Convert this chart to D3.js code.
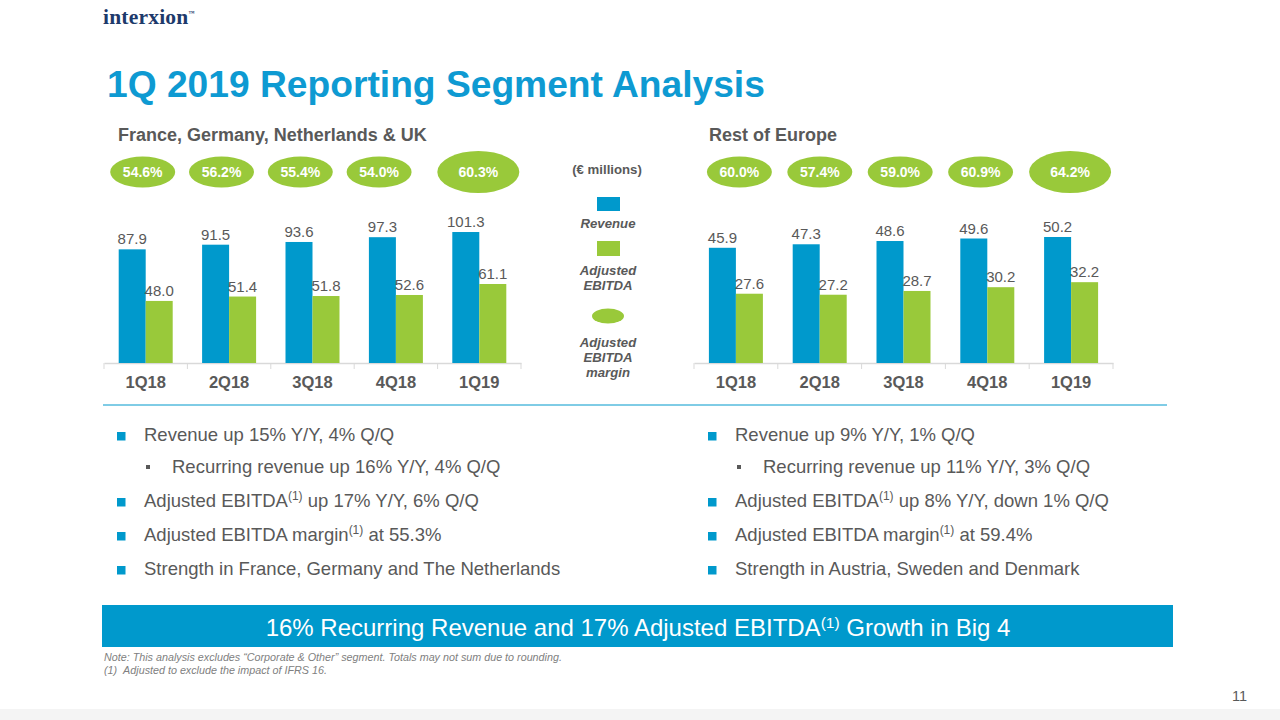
<!DOCTYPE html>
<html><head><meta charset="utf-8">
<script src="https://cdn.jsdelivr.net/npm/d3@7/dist/d3.min.js"></script>
<style>body{margin:0;background:#fff;}svg{display:block;font-family:"Liberation Sans",Arial,sans-serif;}</style>
</head><body>
<svg id="c" width="1280" height="720"></svg>
<script>
const quarters = ["1Q18","2Q18","3Q18","4Q18","1Q19"];
const leftRevenue = [87.9, 91.5, 93.6, 97.3, 101.3];
const leftEbitda = [48.0, 51.4, 51.8, 52.6, 61.1];
const leftMargin = ["54.6%","56.2%","55.4%","54.0%","60.3%"];
const rightRevenue = [45.9, 47.3, 48.6, 49.6, 50.2];
const rightEbitda = [27.6, 27.2, 28.7, 30.2, 32.2];
const rightMargin = ["60.0%","57.4%","59.0%","60.9%","64.2%"];
const leftBullets = [
  {lvl:1, parts:[["Revenue up 15% Y/Y, 4% Q/Q"]]},
  {lvl:2, parts:[["Recurring revenue up 16% Y/Y, 4% Q/Q"]]},
  {lvl:1, parts:[["Adjusted EBITDA"],["(1)","sup"],[" up 17% Y/Y, 6% Q/Q"]]},
  {lvl:1, parts:[["Adjusted EBITDA margin"],["(1)","sup"],[" at 55.3%"]]},
  {lvl:1, parts:[["Strength in France, Germany and The Netherlands"]]}
];
const rightBullets = [
  {lvl:1, parts:[["Revenue up 9% Y/Y, 1% Q/Q"]]},
  {lvl:2, parts:[["Recurring revenue up 11% Y/Y, 3% Q/Q"]]},
  {lvl:1, parts:[["Adjusted EBITDA"],["(1)","sup"],[" up 8% Y/Y, down 1% Q/Q"]]},
  {lvl:1, parts:[["Adjusted EBITDA margin"],["(1)","sup"],[" at 59.4%"]]},
  {lvl:1, parts:[["Strength in Austria, Sweden and Denmark"]]}
];

const BLUE = "#0099cc", GREEN = "#99c93a", GRAY = "#595959";
const svg = d3.select("#c");

// Logo
const logo = svg.append("text").attr("x",103).attr("y",24)
  .attr("font-family","'Liberation Serif','DejaVu Serif',serif").attr("font-weight","bold")
  .attr("font-size",21.5).attr("letter-spacing",0.2).attr("fill","#1d3a6b").text("interxion");
logo.append("tspan").attr("font-size",6).attr("dy",-9).text("™");

// Title
svg.append("text").attr("x",107).attr("y",97).attr("font-size",37.2).attr("font-weight","bold")
  .attr("fill","#0e9ad2").text("1Q 2019 Reporting Segment Analysis");

svg.append("text").attr("x",118).attr("y",141).attr("font-size",18).attr("font-weight","bold")
  .attr("fill",GRAY).text("France, Germany, Netherlands & UK");
svg.append("text").attr("x",709).attr("y",141).attr("font-size",18).attr("font-weight","bold")
  .attr("fill",GRAY).text("Rest of Europe");

function drawChart(x0, x1, rev, ebt, margins, pxPerUnit, offA, offB){
  const base = 363;
  const x = d3.scaleBand().domain(quarters).range([x0, x1]);
  const maxV = d3.max(rev)*1.1;
  const y = d3.scaleLinear().domain([0, maxV]).range([base, base - maxV*pxPerUnit]);
  const bw = 27;
  const g = svg.append("g");
  const ax = d3.axisBottom(x).tickSize(0).tickSizeOuter(0).tickFormat("");
  const axg = g.append("g").attr("transform",`translate(0,${base})`).call(ax);
  axg.select(".domain").attr("stroke","#d9d9d9").attr("stroke-width",1.5);
  g.selectAll("line.sep").data(d3.range(6)).join("line")
    .attr("x1",i=>x0+i*x.step()).attr("x2",i=>x0+i*x.step())
    .attr("y1",base).attr("y2",base+6).attr("stroke","#d9d9d9");
  g.selectAll("text.cat").data(quarters).join("text")
    .attr("x",d=>x(d)+x.bandwidth()/2).attr("y",388).attr("text-anchor","middle")
    .attr("font-size",16.5).attr("font-weight","bold").attr("fill",GRAY).text(d=>d);
  const cx = d => x(d)+x.bandwidth()/2;
  g.selectAll("rect.rev").data(quarters).join("rect")
    .attr("x",d=>cx(d)-bw).attr("width",bw)
    .attr("y",(d,i)=>y(rev[i])).attr("height",(d,i)=>base-y(rev[i])).attr("fill",BLUE);
  g.selectAll("rect.ebt").data(quarters).join("rect")
    .attr("x",d=>cx(d)).attr("width",bw)
    .attr("y",(d,i)=>y(ebt[i])).attr("height",(d,i)=>base-y(ebt[i])).attr("fill",GREEN);
  g.selectAll("text.rv").data(quarters).join("text")
    .attr("x",d=>cx(d)-bw/2).attr("y",(d,i)=>y(rev[i])-5).attr("text-anchor","middle")
    .attr("font-size",15).attr("fill",GRAY).text((d,i)=>rev[i].toFixed(1));
  g.selectAll("text.eb").data(quarters).join("text")
    .attr("x",d=>cx(d)+bw/2).attr("y",(d,i)=>y(ebt[i])-5).attr("text-anchor","middle")
    .attr("font-size",15).attr("fill",GRAY).text((d,i)=>ebt[i].toFixed(1));
  const last = quarters.length-1;
  const ex = (d,i) => cx(d) + (i===last ? -1 : offA + offB*i);
  g.selectAll("ellipse.m").data(quarters).join("ellipse")
    .attr("cx",ex).attr("cy",172)
    .attr("rx",(d,i)=>i===last?41:32.5).attr("ry",(d,i)=>i===last?21:15.5).attr("fill",GREEN);
  g.selectAll("text.m").data(quarters).join("text")
    .attr("x",ex).attr("y",177).attr("text-anchor","middle")
    .attr("font-size",14).attr("font-weight","bold").attr("fill","#fff").text((d,i)=>margins[i]);
}
drawChart(104, 521, leftRevenue, leftEbitda, leftMargin, 1.293, -3, -4.6);
drawChart(694, 1113, rightRevenue, rightEbitda, rightMargin, 2.51, 3.5, -3.4);

// Legend
const lg = svg.append("g").attr("fill",GRAY).attr("font-weight","bold").attr("font-size",13.2).attr("text-anchor","middle");
lg.append("text").attr("x",607).attr("y",174).text("(€ millions)");
lg.append("rect").attr("x",597).attr("y",197).attr("width",23).attr("height",14).attr("fill",BLUE);
lg.append("text").attr("x",608).attr("y",228).attr("font-style","italic").text("Revenue");
lg.append("rect").attr("x",597).attr("y",241).attr("width",23).attr("height",15).attr("fill",GREEN);
lg.append("text").attr("x",608).attr("y",275).attr("font-style","italic").text("Adjusted");
lg.append("text").attr("x",608).attr("y",290).attr("font-style","italic").text("EBITDA");
lg.append("ellipse").attr("cx",608).attr("cy",316).attr("rx",16).attr("ry",7.5).attr("fill",GREEN);
lg.append("text").attr("x",608).attr("y",347).attr("font-style","italic").text("Adjusted");
lg.append("text").attr("x",608).attr("y",362).attr("font-style","italic").text("EBITDA");
lg.append("text").attr("x",608).attr("y",377).attr("font-style","italic").text("margin");

// separator
svg.append("line").attr("x1",103).attr("x2",1167).attr("y1",405).attr("y2",405).attr("stroke",BLUE).attr("stroke-width",1);

function bullets(list, x0){
  const ys = [441, 473, 507, 541, 575];
  list.forEach((b,i)=>{
    if(b.lvl===1){
      svg.append("rect").attr("x",x0).attr("y",ys[i]-9).attr("width",8.5).attr("height",8.5).attr("fill",BLUE);
    } else {
      svg.append("rect").attr("x",x0+29).attr("y",ys[i]-8).attr("width",4).attr("height",4).attr("fill",GRAY);
    }
    const t = svg.append("text").attr("x", b.lvl===1? x0+27 : x0+55).attr("y",ys[i])
      .attr("font-size",18.5).attr("fill",GRAY);
    b.parts.forEach(p=>{
      if(p[1]==="sup"){
        t.append("tspan").attr("font-size",12).attr("dy",-7).text(p[0]);
      } else {
        const s = t.append("tspan").text(p[0]);
        if(t.selectAll("tspan").size()>1) s.attr("dy",7);
      }
    });
  });
}
bullets(leftBullets, 117);
bullets(rightBullets, 708);

// banner
svg.append("rect").attr("x",102).attr("y",605).attr("width",1071).attr("height",42).attr("fill",BLUE);
const bt = svg.append("text").attr("x",638).attr("y",636).attr("text-anchor","middle").attr("font-size",24).attr("fill","#fff");
bt.append("tspan").text("16% Recurring Revenue and 17% Adjusted EBITDA");
bt.append("tspan").attr("font-size",15.5).attr("dy",-8).text("(1)");
bt.append("tspan").attr("dy",8).text(" Growth in Big 4");

// notes
const nt = svg.append("g").attr("font-size",10.75).attr("font-style","italic").attr("fill","#808080");
nt.append("text").attr("x",104).attr("y",661).text("Note: This analysis excludes “Corporate & Other” segment. Totals may not sum due to rounding.");
nt.append("text").attr("x",104).attr("y",674).text("(1)\u00a0\u00a0Adjusted to exclude the impact of IFRS 16.");

// footer
svg.append("rect").attr("x",0).attr("y",709).attr("width",1280).attr("height",11).attr("fill","#f4f4f4");
svg.append("text").attr("x",1247).attr("y",701).attr("text-anchor","end").attr("font-size",14.5).attr("fill",GRAY).text("11");
</script>
</body></html>
